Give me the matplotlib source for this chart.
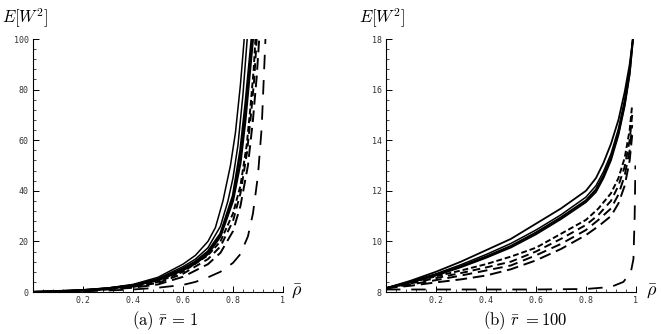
import matplotlib
matplotlib.use('Agg')
import matplotlib.pyplot as plt
from matplotlib.ticker import AutoMinorLocator

plt.rcParams['mathtext.fontset'] = 'cm'

# ---- panel (a): r = 1 ----
a_s1_x = [0, 0.1, 0.2, 0.3, 0.4, 0.5, 0.6, 0.65, 0.7, 0.73, 0.76, 0.79, 0.81, 0.83, 0.845]
a_s1_y = [0, 0.3, 0.8, 1.6, 3.0, 5.8, 11, 14.5, 20, 25.5, 36, 50, 63, 82, 100]
a_s2_x = [0, 0.1, 0.2, 0.3, 0.4, 0.5, 0.6, 0.65, 0.7, 0.75, 0.78, 0.8, 0.82, 0.84, 0.857]
a_s2_y = [0, 0.3, 0.7, 1.5, 2.8, 5.3, 10, 13, 17.5, 26, 36, 45, 58, 78, 100]
a_s3_x = [0, 0.1, 0.2, 0.3, 0.4, 0.5, 0.6, 0.65, 0.7, 0.75, 0.8, 0.83, 0.85, 0.875]
a_s3_y = [0, 0.3, 0.7, 1.4, 2.6, 4.9, 9.2, 12, 16, 23, 38, 56, 74, 100]
a_s4_x = [0, 0.1, 0.2, 0.3, 0.4, 0.5, 0.6, 0.65, 0.7, 0.75, 0.8, 0.83, 0.85, 0.88]
a_s4_y = [0, 0.3, 0.7, 1.4, 2.5, 4.6, 8.6, 11.3, 15, 22, 36, 51, 68, 100]
a_d1_x = [0, 0.1, 0.2, 0.3, 0.4, 0.5, 0.6, 0.7, 0.75, 0.8, 0.83, 0.855, 0.87, 0.883, 0.89]
a_d1_y = [0, 0.2, 0.6, 1.2, 2.2, 4.0, 8.0, 14.5, 20, 31, 42, 58, 73, 88, 100]
a_d2_x = [0, 0.1, 0.2, 0.3, 0.4, 0.5, 0.6, 0.7, 0.75, 0.8, 0.83, 0.856, 0.872, 0.885, 0.895]
a_d2_y = [0, 0.2, 0.5, 1.1, 2.0, 3.6, 7.2, 13, 18, 28, 39, 55, 70, 84, 100]
a_d3_x = [0, 0.1, 0.2, 0.3, 0.4, 0.5, 0.6, 0.7, 0.75, 0.8, 0.83, 0.86, 0.88, 0.895, 0.905]
a_d3_y = [0, 0.2, 0.5, 1.0, 1.7, 3.0, 6.0, 11, 15.5, 24, 34, 50, 68, 85, 100]
a_d4_x = [0, 0.2, 0.3, 0.4, 0.5, 0.6, 0.65, 0.7, 0.75, 0.8, 0.83, 0.86, 0.88, 0.9, 0.915, 0.93]
a_d4_y = [0, 0.3, 0.6, 1.0, 1.7, 2.8, 4.0, 5.8, 8.0, 11.5, 15, 22, 31, 46, 65, 100]

# ---- panel (b): r = 100 ----
b_s_x = [0, 0.1, 0.2, 0.3, 0.4, 0.5, 0.6, 0.7, 0.8, 0.84, 0.87, 0.9, 0.93, 0.955, 0.975, 0.988]
b_s1_y = [8.15, 8.45, 8.8, 9.2, 9.65, 10.1, 10.7, 11.3, 12.0, 12.5, 13.1, 13.85, 14.8, 15.9, 17.0, 18.0]
b_s2_y = [8.15, 8.42, 8.72, 9.08, 9.48, 9.92, 10.45, 11.05, 11.75, 12.2, 12.75, 13.45, 14.45, 15.6, 16.8, 18.0]
b_s3_y = [8.15, 8.4, 8.68, 9.02, 9.4, 9.82, 10.35, 10.95, 11.62, 12.05, 12.6, 13.3, 14.3, 15.45, 16.7, 18.0]
b_s4_y = [8.15, 8.38, 8.65, 8.98, 9.35, 9.76, 10.28, 10.88, 11.55, 11.95, 12.5, 13.2, 14.2, 15.35, 16.6, 18.0]
b_d_x = [0, 0.1, 0.2, 0.3, 0.4, 0.5, 0.6, 0.7, 0.8, 0.85, 0.9, 0.93, 0.955, 0.975, 0.985]
b_d1_y = [8.15, 8.38, 8.62, 8.85, 9.1, 9.4, 9.75, 10.3, 10.85, 11.3, 11.9, 12.5, 13.3, 14.4, 15.4]
b_d2_y = [8.15, 8.34, 8.55, 8.75, 8.97, 9.2, 9.6, 10.1, 10.65, 11.05, 11.6, 12.2, 12.95, 14.0, 15.0]
b_d3_y = [8.15, 8.3, 8.47, 8.65, 8.85, 9.05, 9.45, 9.9, 10.45, 10.85, 11.3, 11.85, 12.6, 13.6, 14.6]
b_d4_y = [8.15, 8.25, 8.38, 8.5, 8.65, 8.9, 9.25, 9.7, 10.25, 10.6, 11.0, 11.5, 12.2, 13.2, 14.2]
b_d5_x = [0, 0.2, 0.4, 0.6, 0.8, 0.9, 0.95, 0.98, 0.99, 0.995, 0.998]
b_d5_y = [8.1, 8.1, 8.1, 8.1, 8.12, 8.2, 8.4, 8.8, 9.3, 11, 13]

a_yticks = [0, 20, 40, 60, 80, 100]
b_yticks = [8, 10, 12, 14, 16, 18]
xticks = [0.2, 0.4, 0.6, 0.8, 1]
xticklabels = ['0.2', '0.4', '0.6', '0.8', '1']


def style_axes(ax, ylim, yticks):
    ax.set_xlim(0, 1)
    ax.set_ylim(*ylim)
    ax.spines['top'].set_visible(False)
    ax.spines['right'].set_visible(False)
    ax.spines['left'].set_linewidth(0.8)
    ax.spines['bottom'].set_linewidth(0.8)
    ax.set_xticks(xticks)
    ax.set_xticklabels(xticklabels)
    ax.set_yticks(yticks)
    ax.set_yticklabels([str(t) for t in yticks])
    ax.xaxis.set_minor_locator(AutoMinorLocator(5))
    ax.yaxis.set_minor_locator(AutoMinorLocator(5))
    ax.tick_params(which='major', direction='in', length=4, width=0.7, pad=3)
    ax.tick_params(which='minor', direction='in', length=2, width=0.5)
    for lab in ax.get_xticklabels() + ax.get_yticklabels():
        lab.set_fontfamily('DejaVu Sans Mono')
        lab.set_fontsize(6)
        lab.set_color('#333333')
    for s in ax.spines.values():
        s.set_clip_on(False)


fig = plt.figure(figsize=(6.62, 3.34), dpi=100)
ax1 = fig.add_axes([0.0498, 0.1257, 0.3776, 0.7575])
ax2 = fig.add_axes([0.583, 0.1257, 0.3776, 0.7575])

k = 'black'
ax1.plot(a_s1_x, a_s1_y, color=k, lw=1.1)
ax1.plot(a_s2_x, a_s2_y, color=k, lw=1.1)
ax1.plot(a_s3_x, a_s3_y, color=k, lw=1.8)
ax1.plot(a_s4_x, a_s4_y, color=k, lw=1.6)
ax1.plot(a_d1_x, a_d1_y, color=k, lw=1.4, dashes=(3, 1.5))
ax1.plot(a_d2_x, a_d2_y, color=k, lw=1.4, dashes=(4, 2.5))
ax1.plot(a_d3_x, a_d3_y, color=k, lw=1.4, dashes=(6, 3))
ax1.plot(a_d4_x, a_d4_y, color=k, lw=1.3, dashes=(8, 6))
style_axes(ax1, (0, 100), a_yticks)

ax2.plot(b_s_x, b_s1_y, color=k, lw=1.3)
ax2.plot(b_s_x, b_s2_y, color=k, lw=1.1)
ax2.plot(b_s_x, b_s3_y, color=k, lw=1.5)
ax2.plot(b_s_x, b_s4_y, color=k, lw=1.3)
ax2.plot(b_d_x, b_d1_y, color=k, lw=1.4, dashes=(3, 1.5))
ax2.plot(b_d_x, b_d2_y, color=k, lw=1.4, dashes=(4, 2.5))
ax2.plot(b_d_x, b_d3_y, color=k, lw=1.4, dashes=(5, 3))
ax2.plot(b_d_x, b_d4_y, color=k, lw=1.4, dashes=(6, 3))
ax2.plot(b_d5_x, b_d5_y, color=k, lw=1.3, dashes=(8, 6))
style_axes(ax2, (8, 18), b_yticks)

# axis labels, Mathematica style
fig.text(0.003, 0.945, r'$E[W^2]$', fontsize=12, ha='left', va='center')
fig.text(0.543, 0.945, r'$E[W^2]$', fontsize=12, ha='left', va='center')
fig.text(0.448, 0.125, r'$\bar{\rho}$', fontsize=13, ha='center', va='center')
fig.text(0.985, 0.125, r'$\bar{\rho}$', fontsize=13, ha='center', va='center')

# captions
fig.text(0.25, 0.04, r'$\mathrm{(a)}\ \bar{r}\,=\,1$', fontsize=12, ha='center', va='center')
fig.text(0.793, 0.04, r'$\mathrm{(b)}\ \bar{r}\ \mathrm{=}100$', fontsize=12, ha='center', va='center')

fig.savefig('out.png', dpi=100)
